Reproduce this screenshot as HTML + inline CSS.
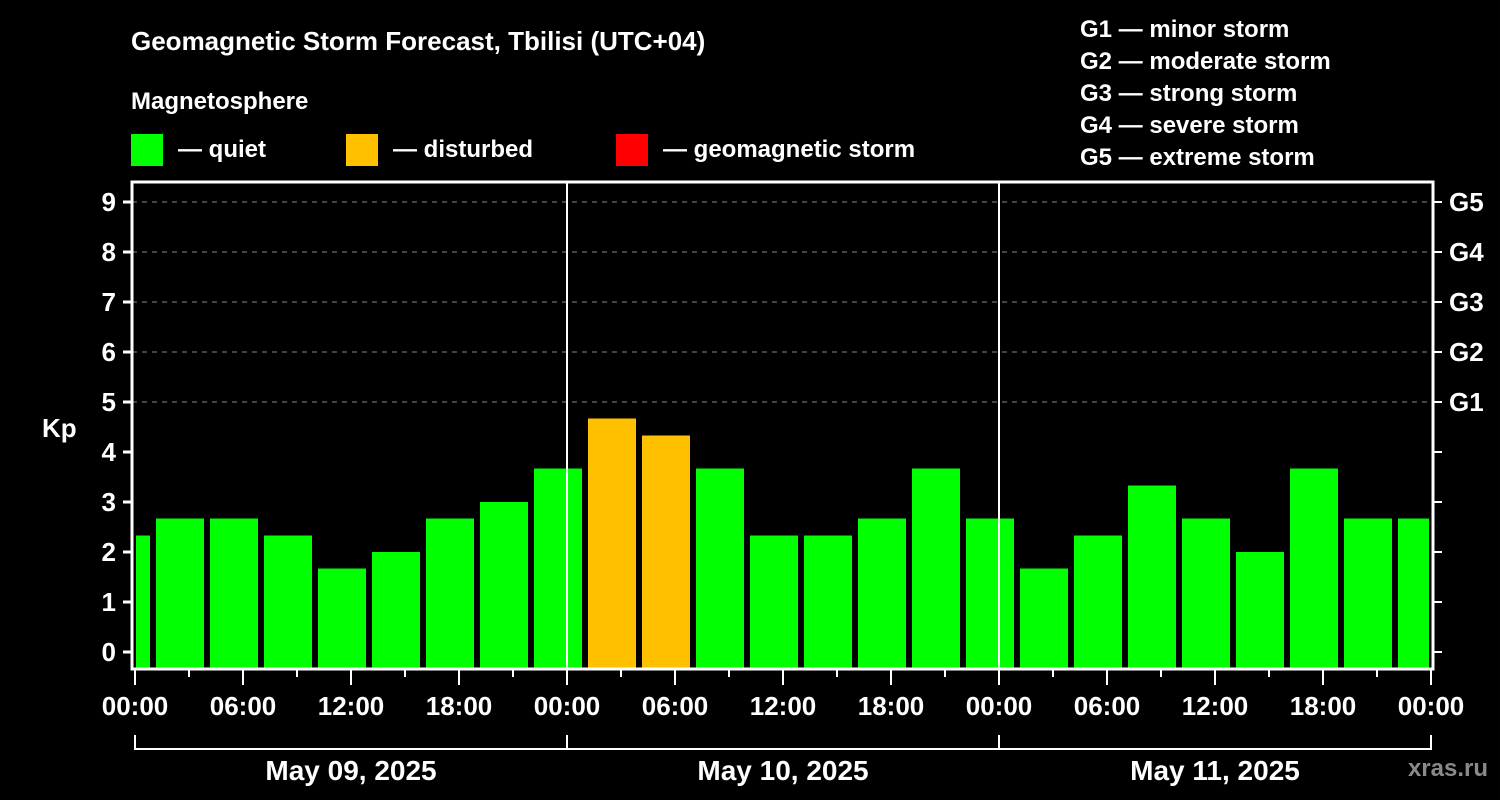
<!DOCTYPE html>
<html><head><meta charset="utf-8">
<style>
html,body{margin:0;padding:0;background:#000;}
svg{display:block;}
text{font-family:"Liberation Sans",Arial,sans-serif;font-weight:bold;fill:#fff;}
</style></head>
<body>
<svg id="chart" width="1500" height="800" viewBox="0 0 1500 800">
<rect x="0" y="0" width="1500" height="800" fill="#000"/>
<text x="131" y="50" font-size="26">Geomagnetic Storm Forecast, Tbilisi (UTC+04)</text>
<text x="131" y="109" font-size="24">Magnetosphere</text>
<g><rect x="131" y="134" width="32" height="32" fill="#00ff00"/><text x="178" y="157" font-size="24">— quiet</text></g>
<g><rect x="346" y="134" width="32" height="32" fill="#ffc000"/><text x="393" y="157" font-size="24">— disturbed</text></g>
<g><rect x="616" y="134" width="32" height="32" fill="#ff0000"/><text x="663" y="157" font-size="24">— geomagnetic storm</text></g>
<g font-size="24">
<text x="1080" y="37">G1 — minor storm</text>
<text x="1080" y="69">G2 — moderate storm</text>
<text x="1080" y="101">G3 — strong storm</text>
<text x="1080" y="133">G4 — severe storm</text>
<text x="1080" y="165">G5 — extreme storm</text>
</g>
<text x="42" y="437" font-size="26">Kp</text>
<text x="1488" y="776" font-size="24" text-anchor="end" fill="#888" style="fill:#8a8a8a">xras.ru</text>
<g id="grid"></g>
<g id="bars"></g>
<g id="axes"></g>
</svg>
<script>
const kpValues = [2.33,2.67,2.67,2.33,1.67,2.0,2.67,3.0,3.67,4.67,4.33,3.67,2.33,2.33,2.67,3.67,2.67,1.67,2.33,3.33,2.67,2.0,3.67,2.67,2.67];
const firstBarStartHour = -2;
const yTicks = [0,1,2,3,4,5,6,7,8,9];
const gLabels = ["G1","G2","G3","G4","G5"];
const xTickLabels = ["00:00","06:00","12:00","18:00","00:00","06:00","12:00","18:00","00:00","06:00","12:00","18:00","00:00"];
const dateLabels = ["May 09, 2025","May 10, 2025","May 11, 2025"];

const NS="http://www.w3.org/2000/svg";
const X0=135, X1=1431, HOURS=72, PL=132, PR=1433, PT=182, PB=669;
const x=h=>X0+(h/HOURS)*(X1-X0);
const y=v=>652-v*50;
function mk(tag,attrs,parent){const e=document.createElementNS(NS,tag);for(const k in attrs)e.setAttribute(k,attrs[k]);parent.appendChild(e);return e;}
const grid=document.getElementById('grid'),bars=document.getElementById('bars'),axes=document.getElementById('axes');

for(let v=5;v<=9;v++){
  const l=mk('line',{x1:PL,x2:PR,y1:y(v),y2:y(v),stroke:'#888','stroke-width':1,'stroke-dasharray':'5,5'},grid);
  
  
}
kpValues.forEach((v,i)=>{
  const s=firstBarStartHour+i*3, e=s+3;
  let xa=Math.max(x(s)+3,X0+1), xb=Math.min(x(e)-3,X1-2);
  const col=v>=5?'#ff0000':(v>=4?'#ffc000':'#00ff00');
  const r=mk('rect',{x:xa,y:y(v),width:xb-xa,height:PB-y(v),fill:col},bars);
  
  
});
// day separators
[24,48].forEach(h=>{
  const l=mk('line',{x1:x(h),x2:x(h),y1:PT,y2:PB,stroke:'#fff','stroke-width':2},axes);
  
  
});
// frame
const fr=mk('path',{d:`M${PL} ${PB} L${PL} ${PT} L${PR} ${PT} L${PR} ${PB} Z`,fill:'none',stroke:'#fff','stroke-width':3},axes);


yTicks.forEach(v=>{
  mk('line',{x1:PL-9,x2:PL,y1:y(v),y2:y(v),stroke:'#fff','stroke-width':3},axes);
  mk('line',{x1:PR,x2:PR+9,y1:y(v),y2:y(v),stroke:'#fff','stroke-width':2},axes);
  const t=mk('text',{x:116,y:y(v)+9,'font-size':26,'text-anchor':'end'},axes);
  t.textContent=v;
  
  
});
gLabels.forEach((g,i)=>{
  const t=mk('text',{x:1449,y:y(5+i)+9,'font-size':26},axes);
  t.textContent=g;
  
  
});
for(let h=0;h<=72;h+=3){
  mk('line',{x1:x(h),x2:x(h),y1:PB,y2:h%6===0?685:677,stroke:'#fff','stroke-width':2},axes);
}
xTickLabels.forEach((s,i)=>{
  const t=mk('text',{x:x(i*6),y:715,'font-size':26,'text-anchor':'middle'},axes);
  t.textContent=s;
  
  
});
mk('path',{d:`M${x(0)} 735 L${x(0)} 749 L${x(72)} 749 L${x(72)} 735 M${x(24)} 735 L${x(24)} 749 M${x(48)} 735 L${x(48)} 749`,fill:'none',stroke:'#fff','stroke-width':2},axes);
dateLabels.forEach((d,i)=>{
  const t=mk('text',{x:x(i*24+12),y:780,'font-size':28,'text-anchor':'middle'},axes);
  t.textContent=d;
  
  
});
</script>
</body></html>
